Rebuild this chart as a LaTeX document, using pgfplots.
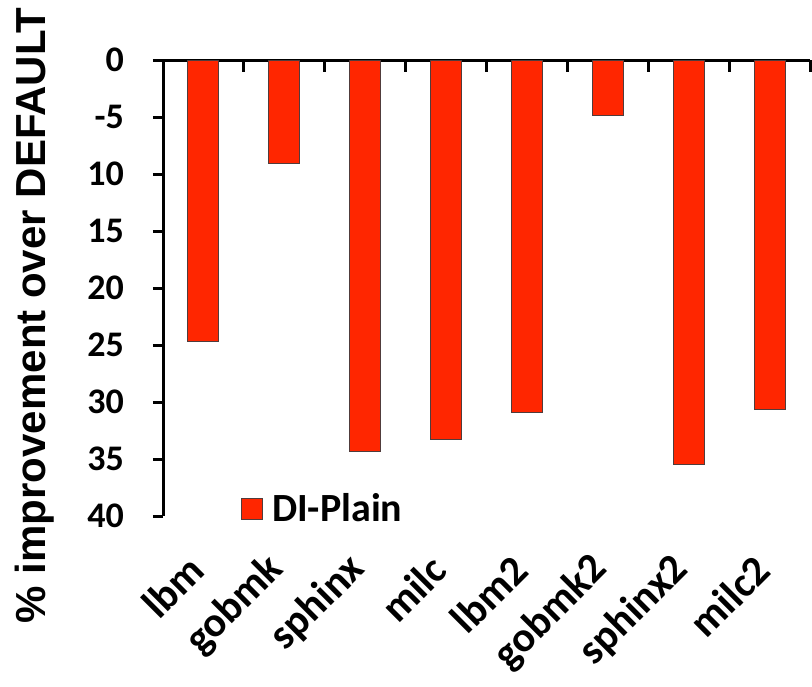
\documentclass[border=0pt]{standalone}
\usepackage{pgfplots}
\pgfplotsset{compat=1.18}
\usepackage{fontspec}
\setmainfont{Carlito}
\newfontfamily\arialfont{Liberation Sans}
\newcommand\xl{\fontsize{21}{21}\selectfont\bfseries}
\definecolor{barred}{RGB}{255,38,0}
\definecolor{baredge}{RGB}{80,60,60}
\begin{document}
\begin{tikzpicture}
\begin{axis}[
  name=ax, at={(0,0)}, anchor=south west,
  scale only axis, width=323.5pt, height=228pt,
  ybar, bar width=15.5pt,
  xmin=-0.5, xmax=7.5, ymin=-40, ymax=0,
  axis x line*=top, axis y line*=left,
  axis line style={-, line width=1.5pt, black},
  xtick={0,...,7},
  xticklabels={lbm,gobmk,sphinx,milc,lbm2,gobmk2,sphinx2,milc2},
  xtick style={draw=none},
  extra x ticks={0.5,1.5,2.5,3.5,4.5,5.5,6.5,7.5},
  extra x tick labels={},
  extra x tick style={xtick style={draw=black, line width=1.5pt}, major tick length=6pt, tick align=inside},
  ytick={-40,-35,-30,-25,-20,-15,-10,-5,0},
  yticklabels={40,35,30,25,20,15,10,-5,0},
  ytick style={line width=1.5pt, black},
  major tick length=5pt,
  tick align=outside,
  /pgf/number format/assume math mode=true,
  yticklabel style={font=\fontsize{18}{18}\selectfont\bfseries, xshift=-11pt},
  xticklabel style={font=\xl, yshift=-254pt, xshift=-1pt, rotate=45, anchor=east},
  ylabel={\arialfont\bfseries\fontsize{21}{21}\selectfont \% improvement over DEFAULT},
  ylabel style={at={(axis description cs:-0.198,0.44)}, anchor=center, rotate=0},
  legend style={draw=none, fill=none, at={(axis description cs:0.11,0.016)}, anchor=west, font=\fontsize{20}{20}\selectfont\bfseries},
  legend image code/.code={\draw[#1] (0pt,-5.25pt) rectangle (10.5pt,5.25pt); \path[draw=none, fill=none] (0pt,0pt) rectangle (13.5pt,0.1pt);},
  clip=false,
]
\addplot[fill=barred, draw=baredge, line width=0.5pt] coordinates {
  (0,-24.65) (1,-9.05) (2,-34.3) (3,-33.25) (4,-30.9) (5,-4.85) (6,-35.5) (7,-30.65)
};
\addlegendentry{DI-Plain}
\end{axis}
\pgfresetboundingbox
\path (-81.5pt,-85pt) rectangle (324.5pt,258pt);
\end{tikzpicture}
\end{document}
